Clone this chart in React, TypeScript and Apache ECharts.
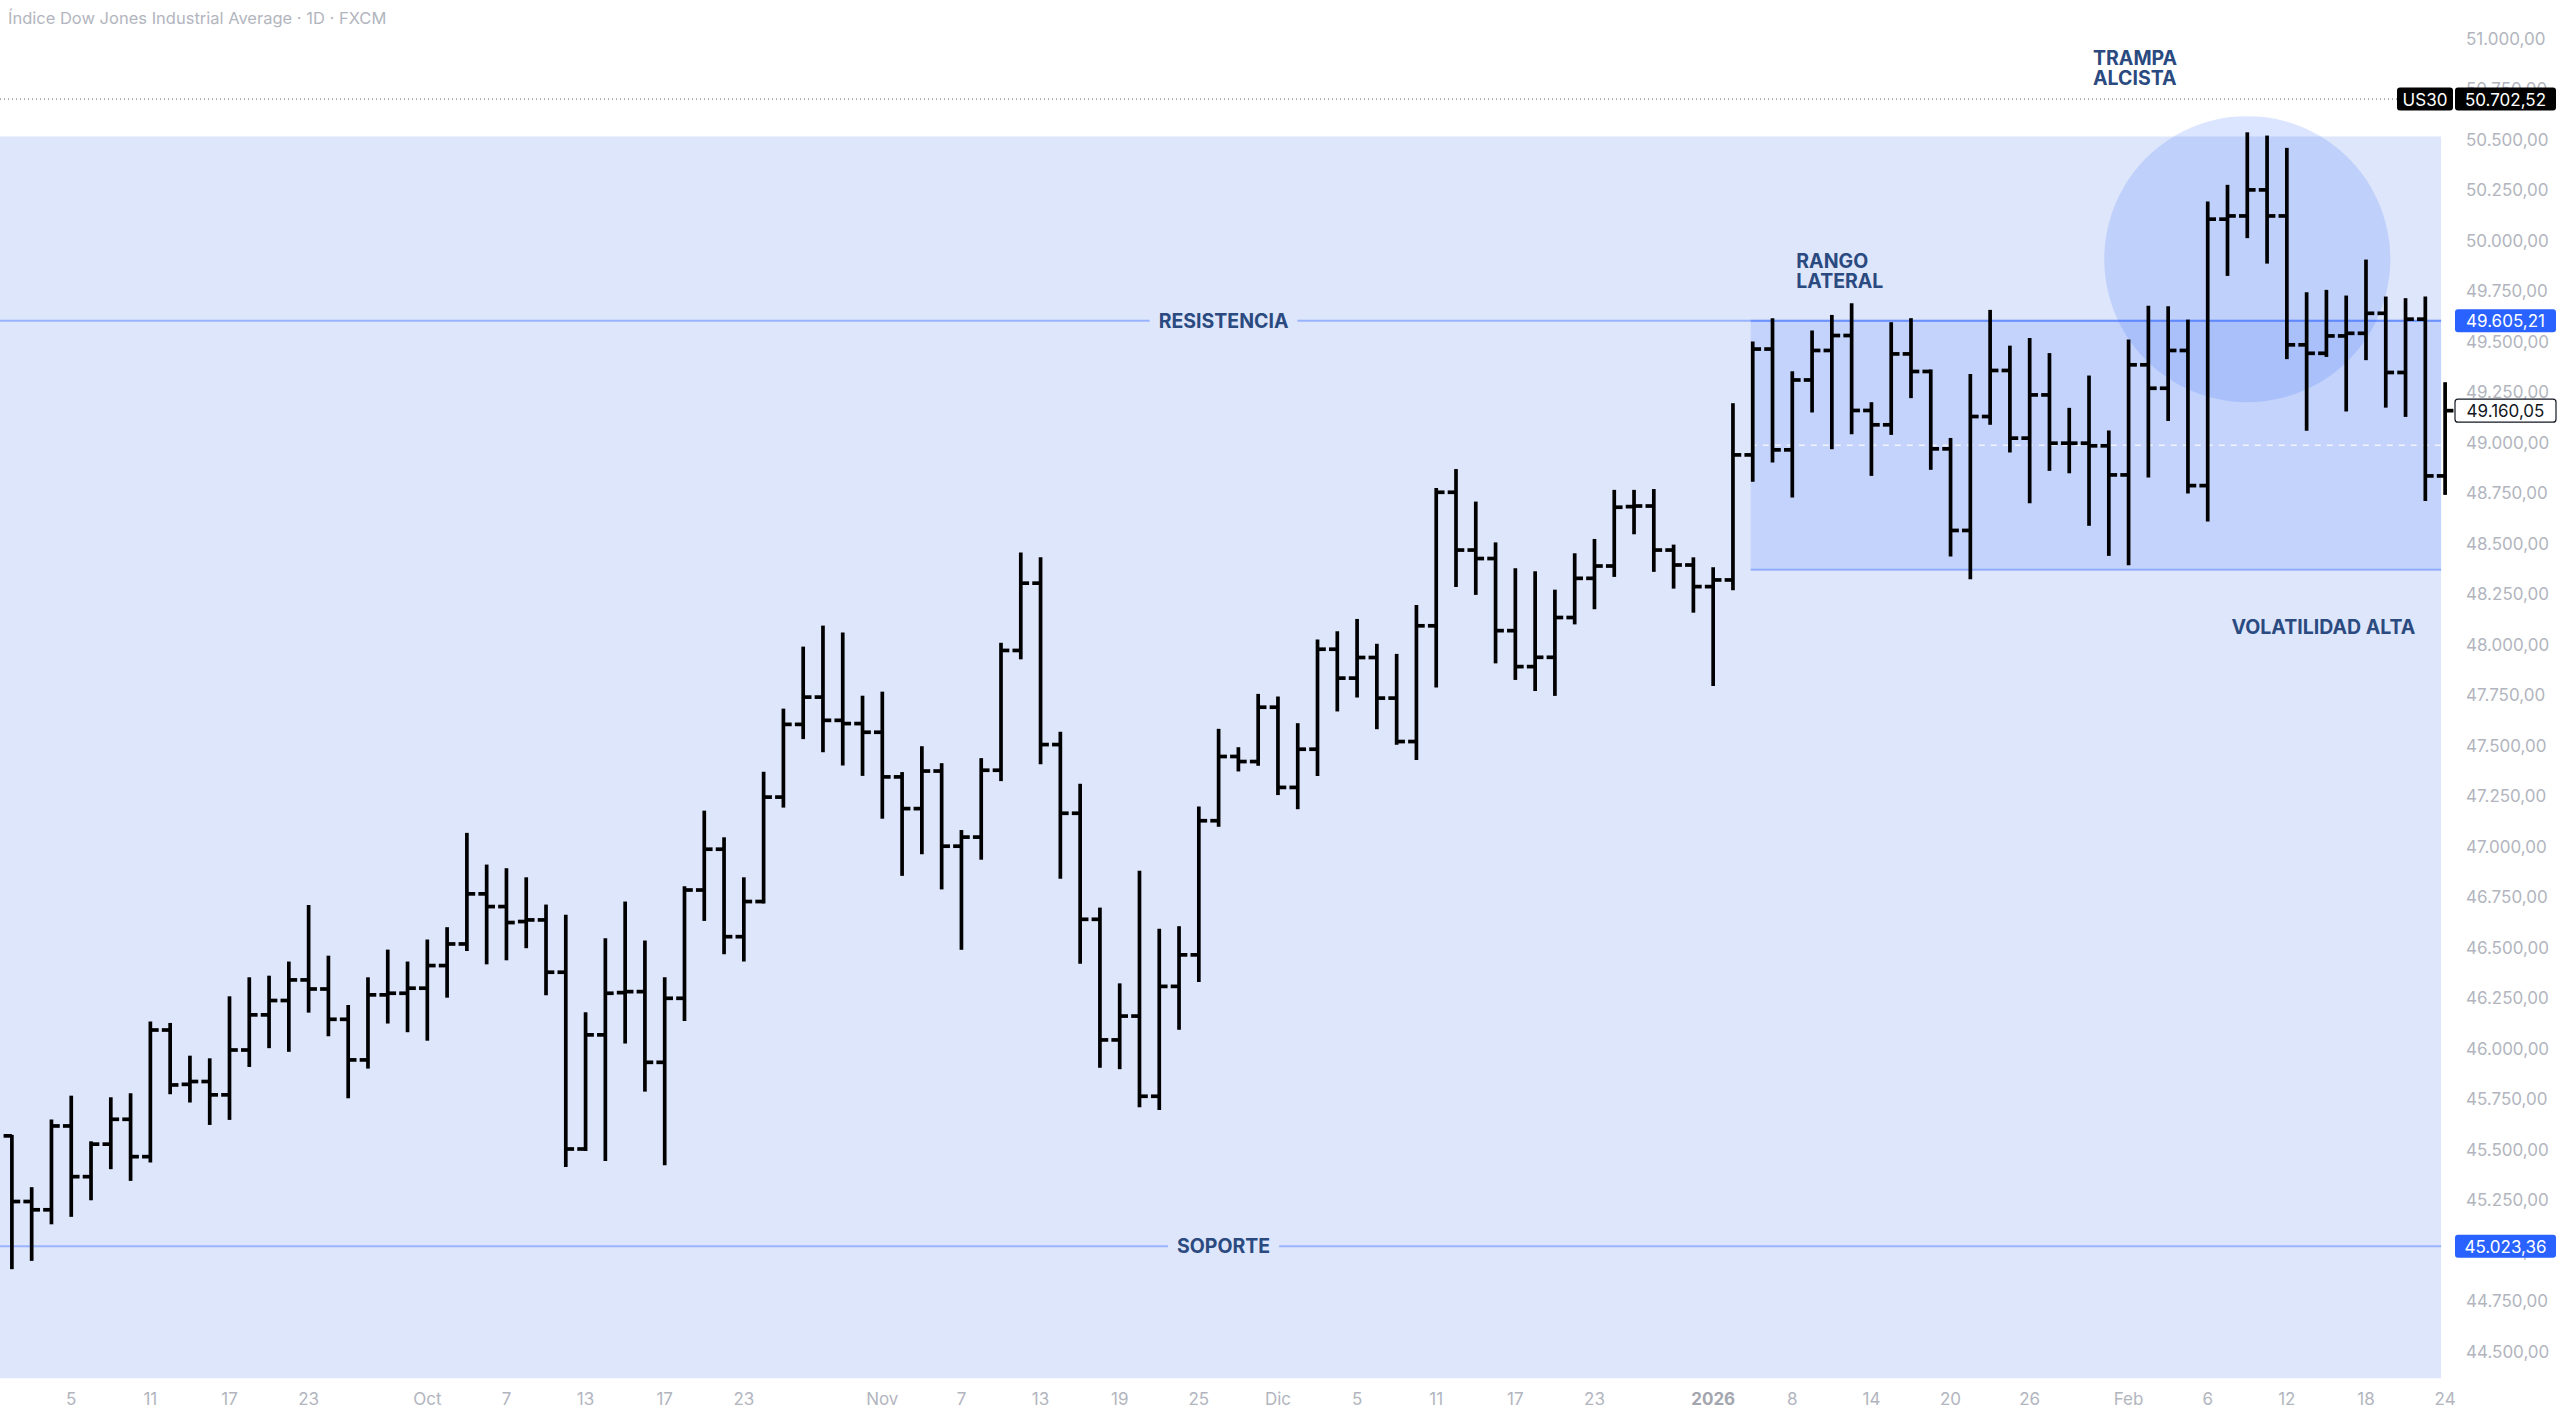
import React, { useEffect, useRef } from "react";
import * as echarts from "echarts";

const TITLE = "Índice Dow Jones Industrial Average · 1D · FXCM";

const dates = [
  "2025-09-02","2025-09-03","2025-09-04","2025-09-05","2025-09-08","2025-09-09","2025-09-10","2025-09-11","2025-09-12","2025-09-15",
  "2025-09-16","2025-09-17","2025-09-18","2025-09-19","2025-09-22","2025-09-23","2025-09-24","2025-09-25","2025-09-26","2025-09-29",
  "2025-09-30","2025-10-01","2025-10-02","2025-10-03","2025-10-06","2025-10-07","2025-10-08","2025-10-09","2025-10-10","2025-10-13",
  "2025-10-14","2025-10-15","2025-10-16","2025-10-17","2025-10-20","2025-10-21","2025-10-22","2025-10-23","2025-10-24","2025-10-27",
  "2025-10-28","2025-10-29","2025-10-30","2025-10-31","2025-11-03","2025-11-04","2025-11-05","2025-11-06","2025-11-07","2025-11-10",
  "2025-11-11","2025-11-12","2025-11-13","2025-11-14","2025-11-17","2025-11-18","2025-11-19","2025-11-20","2025-11-21","2025-11-24",
  "2025-11-25","2025-11-26","2025-11-27","2025-11-28","2025-12-01","2025-12-02","2025-12-03","2025-12-04","2025-12-05","2025-12-08",
  "2025-12-09","2025-12-10","2025-12-11","2025-12-12","2025-12-15","2025-12-16","2025-12-17","2025-12-18","2025-12-19","2025-12-22",
  "2025-12-23","2025-12-24","2025-12-26","2025-12-29","2025-12-30","2025-12-31","2026-01-02","2026-01-05","2026-01-06","2026-01-07",
  "2026-01-08","2026-01-09","2026-01-12","2026-01-13","2026-01-14","2026-01-15","2026-01-16","2026-01-19","2026-01-20","2026-01-21",
  "2026-01-22","2026-01-23","2026-01-26","2026-01-27","2026-01-28","2026-01-29","2026-01-30","2026-02-02","2026-02-03","2026-02-04",
  "2026-02-05","2026-02-06","2026-02-09","2026-02-10","2026-02-11","2026-02-12","2026-02-13","2026-02-16","2026-02-17","2026-02-18",
  "2026-02-19","2026-02-20","2026-02-23","2026-02-24",
];

const opens = [
  45570, 45245, 45204, 45619, 45368, 45529, 45652, 45467, 46094, 45825,
  45839, 45773, 45995, 46169, 46240, 46342, 46297, 46147, 45946, 46268,
  46276, 46301, 46413, 46520, 46768, 46705, 46631, 46639, 46380, 45505,
  46070, 46279, 46284, 45934, 46251, 46787, 46989, 46556, 46730, 47247,
  47607, 47742, 47627, 47611, 47568, 47347, 47190, 47376, 47004, 47049,
  47380, 47973, 48306, 47507, 47167, 46642, 46045, 46163, 45766, 46310,
  46466, 47130, 47448, 47423, 47692, 47295, 47484, 47979, 47836, 47938,
  47737, 47522, 48095, 48756, 48470, 48428, 48071, 47893, 47939, 48136,
  48330, 48391, 48685, 48688, 48470, 48396, 48289, 48322, 48941, 49465,
  48966, 49312, 49458, 49532, 49161, 49090, 49441, 49354, 48971, 48567,
  49131, 49359, 49024, 49238, 48999, 48999, 48986, 48842, 49387, 49271,
  49458, 48789, 50108, 50124, 50253, 50124, 49486, 49444, 49530, 49543,
  49642, 49349, 49613, 48837,
];

const highs = [
  45570, 45311, 45646, 45764, 45538, 45756, 45776, 46131, 46124, 45962,
  45949, 46256, 46350, 46358, 46428, 46708, 46457, 46213, 46350, 46487,
  46428, 46537, 46598, 47065, 46908, 46890, 46845, 46710, 46660, 46177,
  46543, 46725, 46532, 46350, 46801, 47175, 47043, 46845, 47368, 47680,
  47987, 48091, 48057, 47744, 47764, 47366, 47494, 47410, 47079, 47435,
  48006, 48453, 48429, 47566, 47308, 46695, 46320, 46877, 46590, 46603,
  47196, 47580, 47489, 47753, 47740, 47608, 48022, 48063, 48124, 48001,
  47951, 48193, 48772, 48866, 48705, 48503, 48375, 48360, 48269, 48449,
  48520, 48763, 48763, 48767, 48492, 48429, 48380, 49192, 49498, 49613,
  49350, 49552, 49629, 49687, 49197, 49593, 49613, 49359, 49020, 49337,
  49654, 49477, 49515, 49440, 49169, 49329, 49057, 49507, 49675, 49672,
  49606, 50190, 50273, 50533, 50517, 50456, 49741, 49753, 49725, 49903,
  49720, 49712, 49720, 49296,
];

const lows = [
  44915, 44956, 45137, 45174, 45256, 45410, 45352, 45443, 45781, 45740,
  45629, 45654, 45916, 46009, 45991, 46185, 46068, 45761, 45908, 46131,
  46088, 46046, 46259, 46490, 46424, 46444, 46504, 46271, 45421, 45500,
  45451, 46032, 45794, 45430, 46144, 46639, 46474, 46438, 46725, 47200,
  47539, 47474, 47409, 47357, 47145, 46862, 46969, 46795, 46496, 46942,
  47331, 47934, 47415, 46848, 46427, 45912, 45905, 45717, 45703, 46100,
  46337, 47105, 47379, 47407, 47262, 47192, 47357, 47676, 47745, 47588,
  47511, 47435, 47794, 48292, 48253, 47914, 47832, 47777, 47753, 48107,
  48182, 48342, 48553, 48367, 48284, 48165, 47802, 48276, 48813, 48908,
  48735, 49156, 48974, 49048, 48842, 49045, 49227, 48872, 48443, 48331,
  49095, 48958, 48707, 48867, 48855, 48595, 48446, 48400, 48834, 49114,
  48755, 48616, 49832, 50019, 49893, 49420, 49065, 49431, 49161, 49415,
  49180, 49134, 48718, 48748,
];

const closes = [
  45245, 45204, 45619, 45368, 45529, 45652, 45467, 46094, 45822, 45839,
  45773, 45995, 46169, 46240, 46342, 46297, 46147, 45946, 46268, 46276,
  46301, 46413, 46520, 46768, 46705, 46626, 46639, 46380, 45505, 46070,
  46276, 46284, 45934, 46251, 46787, 46989, 46556, 46730, 47247, 47607,
  47742, 47627, 47611, 47568, 47347, 47190, 47376, 47004, 47049, 47380,
  47973, 48306, 47507, 47167, 46642, 46045, 46163, 45766, 46310, 46466,
  47130, 47448, 47423, 47692, 47295, 47484, 47979, 47836, 47938, 47737,
  47522, 48095, 48756, 48470, 48428, 48071, 47893, 47939, 48136, 48330,
  48391, 48682, 48688, 48470, 48396, 48289, 48322, 48941, 49465, 48966,
  49312, 49458, 49532, 49161, 49090, 49441, 49354, 48971, 48567, 49131,
  49359, 49024, 49238, 48999, 48999, 48986, 48842, 49387, 49271, 49458,
  48789, 50108, 50124, 50253, 50124, 49486, 49444, 49530, 49543, 49642,
  49349, 49613, 48837, 49160.05,
];

const tickDates = [
  "2025-09-05","2025-09-11","2025-09-17","2025-09-23","2025-10-01","2025-10-07","2025-10-13","2025-10-17","2025-10-23",
  "2025-11-03","2025-11-07","2025-11-13","2025-11-19","2025-11-25","2025-12-01","2025-12-05","2025-12-11","2025-12-17",
  "2025-12-23","2026-01-02","2026-01-08","2026-01-14","2026-01-20","2026-01-26","2026-02-02","2026-02-06","2026-02-12",
  "2026-02-18","2026-02-24",
];
const tickLabels = [
  "5","11","17","23","Oct","7","13","17","23",
  "Nov","7","13","19","25","Dic","5","11","17",
  "23","2026","8","14","20","26","Feb","6","12",
  "18","24",
];
const yearLabel = "2026";

// price scale window
const PRICE_MIN = 44250;
const PRICE_MAX = 51193;
const PRICE_STEP = 250;

// price levels / drawings (time, price)
const RESISTANCE = 49605.21;
const SUPPORT = 45023.36;
const US30_QUOTE = 50702.52;
const US30_NAME = "US30";
const LAST_CLOSE = closes[closes.length - 1];
const ZONE_TOP = 50517;
const ZONE_BOTTOM = 44370;
const RANGE_START = "2026-01-06";
const RANGE_BOTTOM = 48372;
const TRAP_DATE = "2026-02-10";
const TRAP_PRICE = 49910;
const TRAP_RADIUS_PRICE = 708;

const noteTexts = ["TRAMPA\nALCISTA", "RANGO\nLATERAL", "VOLATILIDAD ALTA"];
const noteDates = ["2026-01-29", "2026-01-08", "2026-02-09"];
const notePrices = [50856, 49851, 48089];
const levelTexts = ["RESISTENCIA", "SOPORTE"];
const levelPrices = [RESISTANCE, SUPPORT];

const FONT = "Inter, 'Noto Sans', 'DejaVu Sans', sans-serif";
const AXIS_GREY = "#b2b5be";
const NOTE_BLUE = "#2a4a80";
const BG_ZONE = "#dee6fb";
const LEVEL_LINE = "rgba(41,98,255,0.38)";

const fmt = (v: number) => {
  const [i, d] = v.toFixed(2).split(".");
  return i.replace(/\B(?=(\d{3})+(?!\d))/g, ".") + "," + d;
};

const ohlcData = dates.map((_, i) => [i, opens[i], closes[i], lows[i], highs[i]]);

function buildOption(): any {
  const lastIdx = dates.length - 1;

  const zoneRender = (params: any, api: any) => {
    const cs = params.coordSys;
    const xEnd = api.coord([lastIdx, ZONE_TOP])[0] - 4;
    const yZoneTop = api.coord([0, ZONE_TOP])[1];
    const yZoneBot = api.coord([0, ZONE_BOTTOM])[1];
    const rs = dates.indexOf(RANGE_START);
    const xRange = api.coord([rs, RESISTANCE])[0] - 2;
    const yRes = api.coord([0, RESISTANCE])[1];
    const yRangeBot = api.coord([0, RANGE_BOTTOM])[1];
    const yMid = (yRes + yRangeBot) / 2;
    const ci = dates.indexOf(TRAP_DATE);
    const c = api.coord([ci, TRAP_PRICE]);
    const r = c[1] - api.coord([ci, TRAP_PRICE + TRAP_RADIUS_PRICE])[1];
    const ySup = api.coord([0, SUPPORT])[1];
    const yQuote = api.coord([0, US30_QUOTE])[1];
    const ls = { stroke: LEVEL_LINE, lineWidth: 2 };
    return {
      type: "group",
      children: [
        { type: "rect", shape: { x: 0, y: yZoneTop, width: xEnd, height: yZoneBot - yZoneTop }, style: { fill: BG_ZONE } },
        { type: "rect", shape: { x: xRange, y: yRes, width: xEnd - xRange, height: yRangeBot - yRes }, style: { fill: "rgba(41,98,255,0.14)" } },
        { type: "circle", shape: { cx: c[0], cy: c[1], r }, style: { fill: "rgba(41,98,255,0.17)" } },
        { type: "line", shape: { x1: xRange, y1: yMid, x2: xEnd, y2: yMid }, style: { stroke: "rgba(255,255,255,0.75)", lineWidth: 1.5, lineDash: [6, 6] } },
        { type: "line", shape: { x1: xRange, y1: yRangeBot, x2: xEnd, y2: yRangeBot }, style: ls },
        { type: "line", shape: { x1: xRange, y1: yRes, x2: xEnd, y2: yRes }, style: ls },
        { type: "line", shape: { x1: 0, y1: yRes, x2: xEnd, y2: yRes }, style: ls },
        { type: "line", shape: { x1: 0, y1: ySup, x2: xEnd, y2: ySup }, style: ls },
        { type: "line", shape: { x1: 0, y1: yQuote, x2: cs.x + cs.width, y2: yQuote }, style: { stroke: "#5d606b", lineWidth: 1, lineDash: [1, 3] } },
      ],
    };
  };

  const barRender = (params: any, api: any) => {
    const i = api.value(0);
    const pO = api.coord([i, api.value(1)]);
    const pC = api.coord([i, api.value(2)]);
    const pL = api.coord([i, api.value(3)]);
    const pH = api.coord([i, api.value(4)]);
    const t = api.size([1, 0])[0] * 0.42;
    const s = { stroke: "#000000", lineWidth: 3.7 };
    return {
      type: "group",
      children: [
        { type: "line", shape: { x1: pH[0], y1: pH[1] - 1, x2: pL[0], y2: pL[1] + 1 }, style: s },
        { type: "line", shape: { x1: pO[0] - t, y1: pO[1], x2: pO[0], y2: pO[1] }, style: s },
        { type: "line", shape: { x1: pC[0], y1: pC[1], x2: pC[0] + t, y2: pC[1] }, style: s },
      ],
    };
  };

  const textEl = (x: number, y: number, text: string, extra: any) => ({
    type: "text",
    x,
    y,
    style: {
      text,
      font: `bold 19.5px ${FONT}`,
      fill: NOTE_BLUE,
      align: "left",
      verticalAlign: "middle",
      textAlign: "left",
      textVerticalAlign: "middle",
      lineHeight: 20,
      ...extra,
    },
  });

  const tag = (xLeft: number, yC: number, w: number, text: string, fill: string, color: string, stroke?: string) => [
    {
      type: "rect",
      shape: { x: xLeft, y: yC - 11.5, width: w, height: 23, r: 3 },
      style: stroke ? { fill, stroke, lineWidth: 1.2 } : { fill },
    },
    {
      type: "text",
      x: xLeft + w / 2,
      y: yC + 0.5,
      style: {
        text,
        font: `17px ${FONT}`,
        fill: color,
        align: "center",
        verticalAlign: "middle",
        textAlign: "center",
        textVerticalAlign: "middle",
      },
    },
  ];

  const notesRender = (params: any, api: any) => {
    const cs = params.coordSys;
    const right = cs.x + cs.width;
    const xStart = cs.x;
    const xEnd = api.coord([lastIdx, RESISTANCE])[0];
    const midX = (xStart + xEnd) / 2;
    const children: any[] = [];
    levelTexts.forEach((t, k) => {
      const y = api.coord([0, levelPrices[k]])[1];
      children.push(
        textEl(midX, y, t, {
          align: "center",
          textAlign: "center",
          backgroundColor: BG_ZONE,
          padding: [3, 9, 3, 9],
        })
      );
    });
    noteTexts.forEach((t, k) => {
      const p = api.coord([dates.indexOf(noteDates[k]), notePrices[k]]);
      children.push(textEl(p[0] + 4, p[1], t, {}));
    });
    const yQ = api.coord([0, US30_QUOTE])[1];
    const yR = api.coord([0, RESISTANCE])[1];
    const yS = api.coord([0, SUPPORT])[1];
    const yL = api.coord([0, LAST_CLOSE])[1];
    children.push(...tag(right - 58, yQ, 56, US30_NAME, "#000000", "#ffffff"));
    children.push(...tag(right, yQ, 101, fmt(US30_QUOTE), "#000000", "#ffffff"));
    children.push(...tag(right, yR, 101, fmt(RESISTANCE), "#2962ff", "#ffffff"));
    children.push(...tag(right, yL, 101, fmt(LAST_CLOSE), "#ffffff", "#131722", "#131722"));
    children.push(...tag(right, yS, 101, fmt(SUPPORT), "#2962ff", "#ffffff"));
    return { type: "group", children };
  };

  return {
    animation: false,
    backgroundColor: "#ffffff",
    title: {
      text: TITLE,
      left: 3,
      top: 4,
      textStyle: { fontSize: 16.5, fontWeight: "normal", color: AXIS_GREY, fontFamily: FONT },
    },
    grid: { left: 2, right: 105, top: 0, bottom: 12.5, containLabel: false },
    xAxis: {
      type: "category",
      data: dates,
      boundaryGap: true,
      axisLine: { show: false },
      axisTick: { show: false },
      splitLine: { show: false },
      axisLabel: {
        interval: (_i: number, v: string) => tickDates.includes(v),
        formatter: (v: string) => {
          const k = tickDates.indexOf(v);
          if (k < 0) return "";
          const lab = tickLabels[k];
          return lab === yearLabel ? `{y|${lab}}` : lab;
        },
        margin: -12,
        fontSize: 17,
        color: AXIS_GREY,
        fontFamily: FONT,
        rich: { y: { fontSize: 17, fontWeight: "bold", color: "#a3a6af", fontFamily: FONT } },
      },
    },
    yAxis: {
      type: "value",
      position: "right",
      min: PRICE_MIN,
      max: PRICE_MAX,
      interval: PRICE_STEP,
      splitLine: { show: false },
      axisLine: { show: false },
      axisTick: { show: false },
      axisLabel: {
        margin: 11,
        fontSize: 17,
        color: AXIS_GREY,
        fontFamily: FONT,
        formatter: (v: number) => (v % PRICE_STEP === 0 ? fmt(v) : ""),
        showMinLabel: false,
        showMaxLabel: false,
      },
    },
    series: [
      { type: "custom", z: 1, silent: true, data: [[0, SUPPORT]], renderItem: zoneRender },
      { type: "custom", z: 2, silent: true, data: ohlcData, encode: { x: 0, y: [1, 2, 3, 4] }, renderItem: barRender },
      { type: "custom", z: 3, silent: true, data: [[0, RESISTANCE]], renderItem: notesRender },
    ],
  };
}

export default function App() {
  const ref = useRef<HTMLDivElement>(null);
  useEffect(() => {
    if (!ref.current) return;
    const chart = echarts.init(ref.current, null, { renderer: "svg" });
    chart.setOption(buildOption());
    return () => chart.dispose();
  }, []);
  return (
    <div
      ref={ref}
      style={{ position: "fixed", left: 0, top: 0, width: 2560, height: 1415, background: "#ffffff" }}
    />
  );
}
